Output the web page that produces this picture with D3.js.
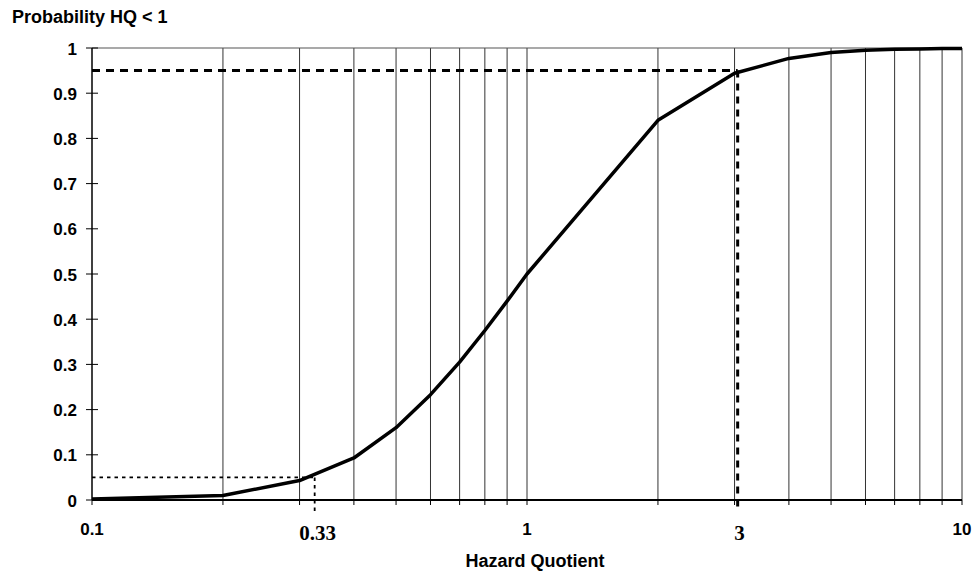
<!DOCTYPE html>
<html>
<head>
<meta charset="utf-8">
<script src="https://cdn.jsdelivr.net/npm/d3@7"></script>
<style>
  body { margin: 0; background: #fff; }
  text { font-family: Arial, "Liberation Sans", sans-serif; font-weight: bold; }
</style>
</head>
<body>
<div id="canvas"></div>
<script>
// hazard quotient points and the cumulative probability
const hq = [0.1, 0.2, 0.3, 0.4, 0.5, 0.6, 0.7, 0.8, 0.9, 1, 2, 3, 4, 5, 6, 7, 8, 9, 10];
const prob = [0.002, 0.01, 0.043, 0.093, 0.16, 0.233, 0.305, 0.375, 0.44, 0.5, 0.84, 0.944, 0.977, 0.99, 0.995, 0.997, 0.998, 0.999, 0.999];

const gridX = [0.2, 0.3, 0.4, 0.5, 0.6, 0.7, 0.8, 0.9, 1, 2, 3, 4, 5, 6, 7, 8, 9, 10];
const yTicks = [0, 0.1, 0.2, 0.3, 0.4, 0.5, 0.6, 0.7, 0.8, 0.9, 1];
const xLabels = [0.1, 1, 10];
const refLabels = [0.33, 3];
const refLow = { x: 0.325, p: 0.05 };
const refHigh = { x: 3.05, p: 0.95 };

const width = 973, height = 572;
const margin = { top: 48, left: 92, bottom: 72, right: 11 };

const svg = d3.select("#canvas").append("svg")
  .attr("width", width)
  .attr("height", height);

const x = d3.scaleLog().domain([0.1, 10]).range([margin.left, width - margin.right]);
const y = d3.scaleLinear().domain([0, 1]).range([height - margin.bottom, margin.top]);

// vertical grid
svg.append("g").selectAll("line").data(gridX).enter().append("line")
  .attr("x1", d => x(d)).attr("x2", d => x(d))
  .attr("y1", y(0)).attr("y2", y(1))
  .attr("stroke", "#333").attr("stroke-width", 1);

// top border
svg.append("line")
  .attr("x1", x(0.1)).attr("x2", x(10))
  .attr("y1", y(1)).attr("y2", y(1))
  .attr("stroke", "#555").attr("stroke-width", 1.2);

// x ticks below axis
svg.append("g").selectAll("line").data([0.1].concat(gridX)).enter().append("line")
  .attr("x1", d => x(d)).attr("x2", d => x(d))
  .attr("y1", y(0)).attr("y2", y(0) + 5)
  .attr("stroke", "#000").attr("stroke-width", 1);

// y axis with ticks crossing it
svg.append("line")
  .attr("x1", x(0.1)).attr("x2", x(0.1))
  .attr("y1", y(0)).attr("y2", y(1))
  .attr("stroke", "#000").attr("stroke-width", 1.5);
svg.append("g").selectAll("line").data(yTicks).enter().append("line")
  .attr("x1", x(0.1) - 6).attr("x2", x(0.1) + 6)
  .attr("y1", d => y(d)).attr("y2", d => y(d))
  .attr("stroke", "#000").attr("stroke-width", 1);
svg.append("g").selectAll("text").data(yTicks).enter().append("text")
  .attr("x", x(0.1) - 15)
  .attr("y", d => y(d) + 6.5)
  .attr("text-anchor", "end")
  .attr("font-size", 17)
  .text(d => d);

// x axis
svg.append("line")
  .attr("x1", x(0.1)).attr("x2", x(10))
  .attr("y1", y(0)).attr("y2", y(0))
  .attr("stroke", "#000").attr("stroke-width", 2);

svg.append("g").selectAll("text").data(xLabels).enter().append("text")
  .attr("x", d => x(d))
  .attr("y", 535)
  .attr("text-anchor", "middle")
  .attr("font-size", 17)
  .text(d => d);

svg.append("g").selectAll("text").data(refLabels).enter().append("text")
  .attr("x", d => x(d) + (d === 3 ? 5 : 0))
  .attr("y", 540)
  .attr("text-anchor", "middle")
  .attr("font-size", 21)
  .style("font-family", "'Liberation Serif', 'Times New Roman', serif")
  .text(d => d);

// reference lines
svg.append("line")
  .attr("x1", x(0.1)).attr("x2", x(refHigh.x))
  .attr("y1", y(refHigh.p)).attr("y2", y(refHigh.p))
  .attr("stroke", "#000").attr("stroke-width", 3).attr("stroke-dasharray", "8,6");
svg.append("line")
  .attr("x1", x(refHigh.x)).attr("x2", x(refHigh.x))
  .attr("y1", y(refHigh.p)).attr("y2", y(0) + 8)
  .attr("stroke", "#000").attr("stroke-width", 3).attr("stroke-dasharray", "7,6");

svg.append("line")
  .attr("x1", x(0.1)).attr("x2", x(refLow.x))
  .attr("y1", y(refLow.p)).attr("y2", y(refLow.p))
  .attr("stroke", "#000").attr("stroke-width", 1.8).attr("stroke-dasharray", "3.5,4");
svg.append("line")
  .attr("x1", x(refLow.x)).attr("x2", x(refLow.x))
  .attr("y1", y(refLow.p)).attr("y2", y(0) + 15)
  .attr("stroke", "#000").attr("stroke-width", 1.8).attr("stroke-dasharray", "3.5,4");

// the curve
const line = d3.line().x((d, i) => x(d)).y((d, i) => y(prob[i]));
svg.append("path")
  .datum(hq)
  .attr("d", line)
  .attr("fill", "none")
  .attr("stroke", "#000")
  .attr("stroke-width", 3.5)
  .attr("stroke-linejoin", "round");

// titles
svg.append("text")
  .attr("x", 12).attr("y", 23)
  .attr("font-size", 18)
  .text("Probability HQ < 1");
svg.append("text")
  .attr("x", x(1) + 8).attr("y", 567)
  .attr("text-anchor", "middle")
  .attr("font-size", 18)
  .text("Hazard Quotient");
</script>
</body>
</html>
